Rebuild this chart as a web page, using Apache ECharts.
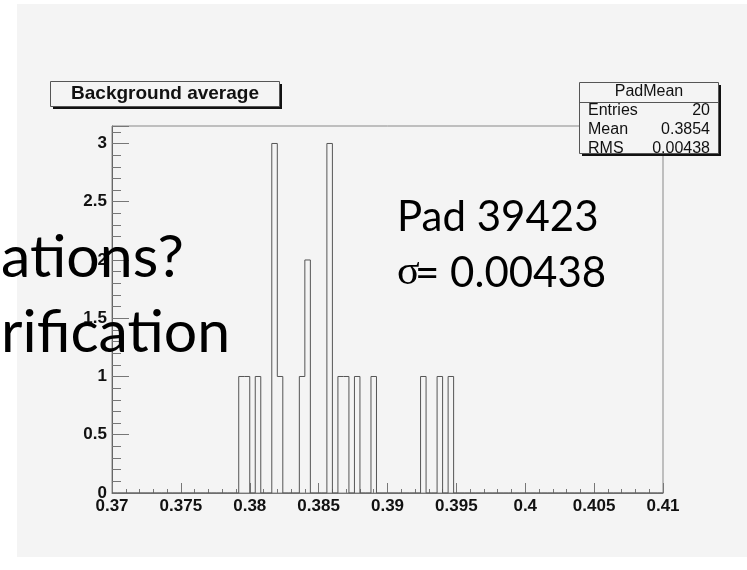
<!DOCTYPE html>
<html><head><meta charset="utf-8">
<script src="https://cdn.jsdelivr.net/npm/echarts@6/dist/echarts.min.js"></script>
<style>html,body{margin:0;padding:0;background:#fff}#c{width:747px;height:570px}</style>
</head><body><div id="c"></div>
<script>
// ---- data ----
const histTitle = 'Background average';
const statsName = 'PadMean';
const statsLabels = ['Entries', 'Mean', 'RMS'];
const statsValues = ['20', '0.3854', '0.00438'];
const xMin = 0.37, xMax = 0.41, nBins = 100;
const filledBinLow = [0.3792, 0.3796, 0.3804, 0.3816, 0.3820, 0.3836, 0.3840, 0.3856, 0.3864, 0.3868, 0.3876, 0.3888, 0.3924, 0.3936, 0.3944];
const filledBinCount = [1, 1, 1, 3, 1, 1, 2, 3, 1, 1, 1, 1, 1, 1, 1];
const xTickLabels = ['0.37', '0.375', '0.38', '0.385', '0.39', '0.395', '0.4', '0.405', '0.41'];
const xTickStep = 0.005;
const yTickLabels = ['0', '0.5', '1', '1.5', '2', '2.5', '3'];
const yTickStep = 0.5;
const yMax = 3.15;
const overlayPad = 'Pad 39423';
const overlaySigmaSym = 'σ';
const overlaySigmaVal = '= 0.00438';
const slideLine1 = 'ations?';
const slideLine2 = 'rification';

// ---- build histogram outline ----
const binW = (xMax - xMin) / nBins;
const counts = new Array(nBins).fill(0);
filledBinLow.forEach((lo, k) => { counts[Math.round((lo - xMin) / binW)] = filledBinCount[k]; });
const stepData = counts.map((c, i) => [xMin + i * binW, c]);
stepData.push([xMax, 0]);

const chart = echarts.init(document.getElementById('c'), null, { renderer: 'canvas' });
const axisCol = '#777';
const labelFont = { fontFamily: 'Liberation Sans', fontWeight: 'bold', fontSize: 17, color: '#111' };

chart.setOption({
  animation: false,
  backgroundColor: '#f4f4f4',
  grid: { left: 112, right: 84, top: 126, bottom: 77, show: true, borderColor: '#888', borderWidth: 1, backgroundColor: 'transparent' },
  xAxis: {
    type: 'value', min: xMin, max: xMax, interval: xTickStep,
    axisLine: { lineStyle: { color: axisCol, width: 1 } },
    axisTick: { inside: true, length: 10, lineStyle: { color: axisCol } },
    minorTick: { show: true, splitNumber: 5, length: 4, lineStyle: { color: axisCol } },
    splitLine: { show: false }, minorSplitLine: { show: false },
    axisLabel: Object.assign({ margin: 5, formatter: v => { const i = Math.round((v - xMin) / xTickStep); return xTickLabels[i] || ''; } }, labelFont)
  },
  yAxis: [{
    type: 'value', min: 0, max: yMax, interval: yTickStep, position: 'left',
    axisLine: { show: true, lineStyle: { color: '#666', width: 1 } },
    axisTick: { show: true, inside: true, length: 17, lineStyle: { color: axisCol } },
    splitLine: { show: false },
    axisLabel: Object.assign({ margin: 5, formatter: v => { const i = Math.round(v / yTickStep); return Math.abs(v - i * yTickStep) < 1e-6 ? (yTickLabels[i] || '') : ''; } }, labelFont)
  }, {
    type: 'value', min: 0, max: yMax, interval: 0.1, position: 'left', offset: 0,
    axisLine: { show: false },
    axisTick: { show: true, inside: true, length: 9, lineStyle: { color: axisCol } },
    splitLine: { show: false }, axisLabel: { show: false }
  }],
  series: [{
    type: 'line', step: 'end', data: stepData, yAxisIndex: 0,
    symbol: 'none', lineStyle: { color: '#555', width: 1 }, z: 3
  }],
  graphic: [
    // white page margins
    { type: 'rect', shape: { x: 0, y: 0, width: 17, height: 570 }, style: { fill: '#fff' }, z: 1 },
    { type: 'rect', shape: { x: 0, y: 0, width: 747, height: 4 }, style: { fill: '#fff' }, z: 1 },
    { type: 'rect', shape: { x: 0, y: 557, width: 747, height: 13 }, style: { fill: '#fff' }, z: 1 },
    // title box
    { type: 'rect', shape: { x: 53, y: 84, width: 229, height: 25 }, style: { fill: '#111' }, z: 10 },
    { type: 'rect', shape: { x: 50.5, y: 81.5, width: 229, height: 25 }, style: { fill: '#f4f4f4', stroke: '#555', lineWidth: 1 }, z: 11 },
    { type: 'text', x: 165, y: 94, style: { text: histTitle, fontFamily: 'Liberation Sans', fontWeight: 'bold', fontSize: 19, fill: '#111', align: 'center', verticalAlign: 'middle' }, z: 12 },
    // stats box
    { type: 'rect', shape: { x: 582, y: 85, width: 139, height: 71 }, style: { fill: '#111' }, z: 10 },
    { type: 'rect', shape: { x: 579.5, y: 82.5, width: 139, height: 71 }, style: { fill: '#f4f4f4', stroke: '#555', lineWidth: 1 }, z: 11 },
    { type: 'line', shape: { x1: 579.5, y1: 102.5, x2: 718.5, y2: 102.5 }, style: { stroke: '#555', lineWidth: 1 }, z: 12 },
    { type: 'text', x: 649, y: 92, style: { text: statsName, fontFamily: 'Liberation Sans', fontSize: 16, fill: '#111', align: 'center', verticalAlign: 'middle' }, z: 12 },
    ...statsLabels.map((t, i) => ({ type: 'text', x: 588, y: 111 + i * 19, style: { text: t, fontFamily: 'Liberation Sans', fontSize: 16, fill: '#111', align: 'left', verticalAlign: 'middle' }, z: 12 })),
    ...statsValues.map((t, i) => ({ type: 'text', x: 710, y: 111 + i * 19, style: { text: t, fontFamily: 'Liberation Sans', fontSize: 16, fill: '#111', align: 'right', verticalAlign: 'middle' }, z: 12 })),
    // overlay slide texts
    { type: 'text', x: 397, y: 217, style: { text: overlayPad, fontFamily: 'Lato', fontSize: 42, fill: '#000', align: 'left', verticalAlign: 'middle' }, z: 20 },
    { type: 'text', x: 397, y: 273, style: { text: overlaySigmaSym, fontFamily: 'Liberation Serif', fontSize: 42, fill: '#000', align: 'left', verticalAlign: 'middle' }, z: 20 },
    { type: 'text', x: 415, y: 273, style: { text: overlaySigmaVal, fontFamily: 'Lato', fontSize: 42, fill: '#000', align: 'left', verticalAlign: 'middle' }, z: 20 },
    { type: 'text', x: 1, y: 258, style: { text: slideLine1, fontFamily: 'Lato', fontSize: 59, fill: '#000', align: 'left', verticalAlign: 'middle' }, z: 20 },
    { type: 'text', x: 1, y: 333, style: { text: slideLine2, fontFamily: 'Lato', fontSize: 59, fill: '#000', align: 'left', verticalAlign: 'middle' }, z: 20 }
  ]
});
</script>
</body></html>
